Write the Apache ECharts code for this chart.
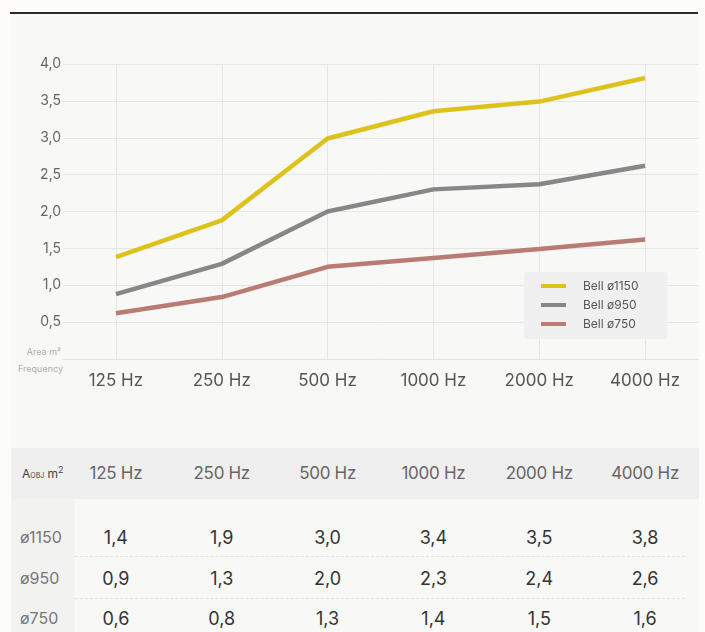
<!DOCTYPE html>
<html>
<head>
<meta charset="utf-8">
<script src="https://cdn.jsdelivr.net/npm/echarts@6/dist/echarts.min.js"></script>
<style>
  html, body { margin: 0; padding: 0; background: #fdfcf8; font-family: Inter, "Noto Sans", sans-serif; }
  #page { position: relative; width: 705px; height: 632px; overflow: hidden; }
  #topline { position: absolute; left: 10px; top: 12px; width: 688px; height: 2px; background: #2a2a2a; }
  #panel { position: absolute; left: 11px; top: 14px; width: 688px; height: 618px; background: #f8f8f6; }
  #chart { position: absolute; left: 0; top: 0; width: 705px; height: 420px; }
  #head { position: absolute; left: 11px; top: 448px; width: 688px; height: 51px; background: #efefef; }
  #side { position: absolute; left: 11px; top: 499px; width: 64px; height: 133px; background: #f2f2f1; }
  .cell { position: absolute; transform: translate(-50%, -50%); white-space: nowrap; }
  .hcell { font-size: 17px; color: #666; letter-spacing: -0.3px; }
  .vcell { font-size: 18px; color: #333; }
  .rlab { position: absolute; transform: translateY(-50%); left: 20px; font-size: 16px; color: #777; }
  .sep { position: absolute; left: 75px; width: 610px; border-top: 1px dashed #e0e0e0; }
  #objlab { position: absolute; left: 22px; top: 472px; transform: translateY(-50%); font-size: 12px; color: #444; }
</style>
</head>
<body>
<div id="page">
  <div id="panel"></div>
  <div id="topline"></div>
  <div id="head"></div>
  <div id="side"></div>
  <div id="chart"></div>
  <div id="objlab">A<span style="font-size:7px">OBJ</span> m<sup style="font-size:9px">2</sup></div>
</div>
<script>
// frequency bands
var categories = ['125 Hz', '250 Hz', '500 Hz', '1000 Hz', '2000 Hz', '4000 Hz'];
// plotted curves
var bell1150 = [1.38, 1.88, 2.99, 3.36, 3.49, 3.81];
var bell950 = [0.88, 1.29, 2.0, 2.3, 2.37, 2.62];
var bell750 = [0.62, 0.84, 1.25, 1.37, 1.49, 1.62];
var seriesNames = ['Bell ø1150', 'Bell ø950', 'Bell ø750'];
// table below the chart
var rowLabels = ['ø1150', 'ø950', 'ø750'];
var row1150 = ['1,4', '1,9', '3,0', '3,4', '3,5', '3,8'];
var row950 = ['0,9', '1,3', '2,0', '2,3', '2,4', '2,6'];
var row750 = ['0,6', '0,8', '1,3', '1,4', '1,5', '1,6'];

var colors = ['#dec21c', '#878787', '#b87c72'];

var chart = echarts.init(document.getElementById('chart'), null, { renderer: 'canvas' });

var option = {
  animation: false,
  textStyle: { fontFamily: 'Inter' },
  grid: { left: 63, right: 7, top: 64, bottom: 61, containLabel: false },
  legend: {
    orient: 'vertical',
    left: 524,
    top: 272,
    backgroundColor: '#f0f0f0',
    borderRadius: 4,
    padding: [8, 29, 9, 17],
    itemGap: 7,
    itemWidth: 25,
    itemHeight: 4,
    icon: 'rect',
    textStyle: { fontSize: 12, color: '#555', padding: [0, 0, 0, 12] },
    data: seriesNames
  },
  xAxis: {
    type: 'category',
    data: categories,
    axisLine: { show: true, lineStyle: { color: '#e3e3e3', width: 1 } },
    axisTick: { show: false },
    splitLine: { show: true, alignWithLabel: true, lineStyle: { color: '#e6e6e6', width: 1 } },
    axisLabel: { fontSize: 17, color: '#555', margin: 13 }
  },
  yAxis: {
    type: 'value',
    min: 0,
    max: 4,
    interval: 0.5,
    axisLine: { show: false },
    axisTick: { show: false },
    splitLine: { lineStyle: { color: '#e6e6e6', width: 1 } },
    axisLabel: {
      margin: 2,
      fontSize: 14,
      color: '#666',
      formatter: function (v) {
        if (v === 0) return '{a|Area m²}';
        return v.toFixed(1).replace('.', ',');
      },
      rich: {
        a: { fontSize: 9, color: '#aaa', padding: [0, 0, 14, 0] }
      }
    }
  },
  graphic: [{
    type: 'text',
    right: 642,
    top: 365,
    style: { text: 'Frequency', fontSize: 9, fill: '#aaa', fontFamily: 'Inter' }
  }],
  series: [
    { name: seriesNames[0], type: 'line', data: bell1150, showSymbol: false, color: colors[0], lineStyle: { width: 4.5, color: colors[0] } },
    { name: seriesNames[1], type: 'line', data: bell950, showSymbol: false, color: colors[1], lineStyle: { width: 4.5, color: colors[1] } },
    { name: seriesNames[2], type: 'line', data: bell750, showSymbol: false, color: colors[2], lineStyle: { width: 4.5, color: colors[2] } }
  ]
};
chart.setOption(option);

// table columns follow the chart's category positions
var page = document.getElementById('page');
function addCell(cls, text, x, y) {
  var d = document.createElement('div');
  d.className = 'cell ' + cls;
  d.textContent = text;
  d.style.left = x + 'px';
  d.style.top = y + 'px';
  page.appendChild(d);
}
var rows = [row1150, row950, row750];
var rowY = [537, 578, 618];
categories.forEach(function (c, i) {
  var x = chart.convertToPixel({ xAxisIndex: 0 }, c);
  addCell('hcell', c, x, 473);
  rows.forEach(function (r, j) {
    addCell('vcell', r[i], x, rowY[j]);
  });
});
rowLabels.forEach(function (l, j) {
  var d = document.createElement('div');
  d.className = 'rlab';
  d.textContent = l;
  d.style.top = rowY[j] + 'px';
  page.appendChild(d);
});
[556, 598].forEach(function (y) {
  var s = document.createElement('div');
  s.className = 'sep';
  s.style.top = y + 'px';
  page.appendChild(s);
});
</script>
</body>
</html>
